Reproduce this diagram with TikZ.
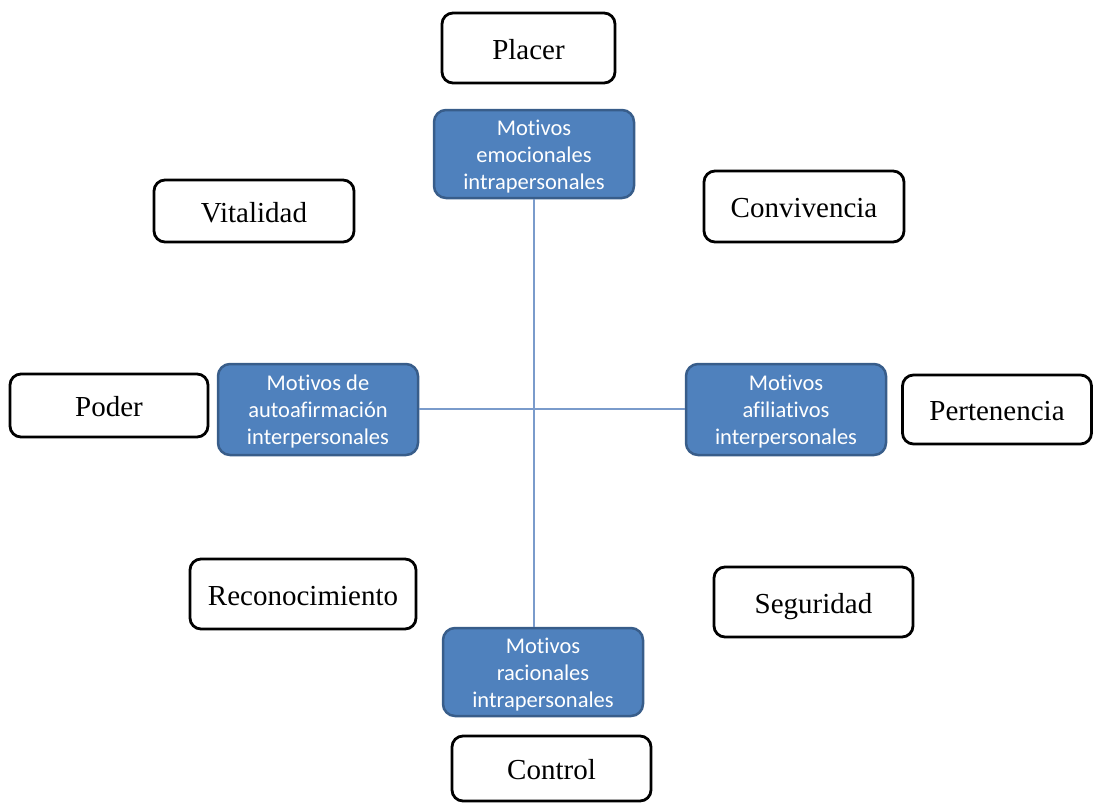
\documentclass[tikz,border=0pt]{standalone}
\usepackage{fontspec}
\setmainfont{Liberation Serif}
\newfontfamily\calib[Ligatures=NoCommon]{Carlito}
\definecolor{bfill}{HTML}{4F81BD}
\definecolor{bdraw}{HTML}{385D8A}
\definecolor{lnk}{HTML}{7A9BCB}
\newcommand{\upstrut}{\rule{0pt}{20.5pt}}
\begin{document}
\begin{tikzpicture}[x=1pt,y=-1pt,
  wbox/.style={draw=black, line width=2.8pt, rounded corners=11pt, fill=white,
    inner sep=0pt, text height=24pt, text depth=2pt, font=\fontsize{29}{33}\selectfont},
  bbox/.style={draw=bdraw, line width=2.5pt, rounded corners=12pt, fill=bfill,
    inner sep=0pt, text=white, align=center, minimum width=200pt, minimum height=88pt,
    font=\calib\fontsize{22.5}{27}\selectfont},
  link/.style={draw=lnk, line width=1.5pt}]
\useasboundingbox (0,0) rectangle (1094,803);
\node[bbox] (emo) at (534,154) {\upstrut Motivos\\emocionales\\intrapersonales};
\node[bbox] (rac) at (543,672) {\upstrut Motivos\\racionales\\intrapersonales};
\node[bbox, minimum height=91pt] (auto) at (318,409.5) {\upstrut Motivos de\\autoafirmación\\interpersonales};
\node[bbox, minimum height=91pt] (afil) at (786,409.5) {\upstrut Motivos\\afiliativos\\interpersonales};
\draw[link] (emo.south) -- (emo.south |- rac.north);
\draw[link] (auto.east |- 0,409) -- (afil.west |- 0,409);
\node[wbox, minimum width=173pt, minimum height=70pt] (placer) at (528.5,48) {Placer};
\node[wbox, minimum width=200pt, minimum height=62pt] (vital) at (254,211) {Vitalidad};
\node[wbox, minimum width=200pt, minimum height=71pt] (conv) at (804,206.5) {Convivencia};
\node[wbox, minimum width=198pt, minimum height=63pt] (poder) at (109,405.5) {Poder};
\node[wbox, minimum width=189pt, minimum height=69pt] (pert) at (997,409.5) {Pertenencia};
\node[wbox, minimum width=226pt, minimum height=70pt] (recon) at (303,594) {Reconocimiento};
\node[wbox, minimum width=199pt, minimum height=70pt] (seg) at (813.5,602) {Seguridad};
\node[wbox, minimum width=199pt, minimum height=65pt] (ctrl) at (551.5,768.5) {Control};
\end{tikzpicture}
\end{document}
